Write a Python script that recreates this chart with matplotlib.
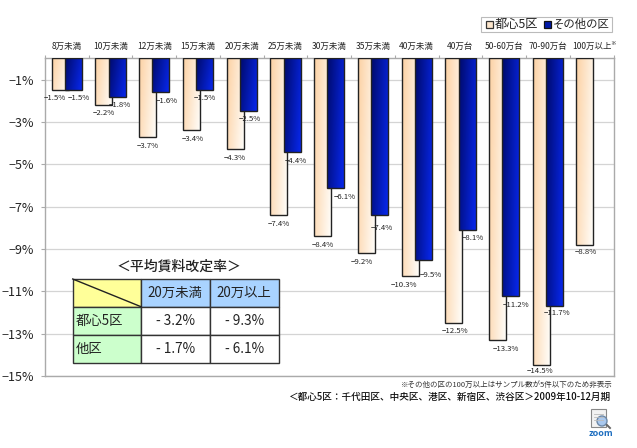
import matplotlib
matplotlib.use('Agg')
import matplotlib.pyplot as plt
from matplotlib.patches import Rectangle, Circle, Polygon
import numpy as np

plt.rcParams['font.family'] = ['Noto Sans CJK JP', 'DejaVu Sans']

categories = ['8万未満', '10万未満', '12万未満', '15万未満', '20万未満', '25万未満', '30万未満',
              '35万未満', '40万未満', '40万台', '50-60万台', '70-90万台', '100万以上']
center5 = [-1.5, -2.2, -3.7, -3.4, -4.3, -7.4, -8.4, -9.2, -10.3, -12.5, -13.3, -14.5, -8.8]
others = [-1.5, -1.8, -1.6, -1.5, -2.5, -4.4, -6.1, -7.4, -9.5, -8.1, -11.2, -11.7]
y_ticks = [-1, -3, -5, -7, -9, -11, -13, -15]

table_title = '＜平均賃料改定率＞'
table_cols = ['20万未満', '20万以上']
table_rows = ['都心5区', '他区']
table_vals = [['- 3.2%', '- 9.3%'], ['- 1.7%', '- 6.1%']]

# label nudges in pixels, from the bar centre / bar end
center_dx = [-5, 0, 0, 1, 0, 0, 0, -4, -6, 1, 8, -1, 1]
center_dy = [8, 8, 9, 9, 9, 9, 9, 9, 9, 8, 9, 6, 7]
other_dx = [5, 3, 6, 0, 1, 4, 9, 2, 8, 6, 5, 3]
other_dy = [8, 8, 9, 8, 8, 9, 9, 13, 15, 8, 9, 7]

W, H = 637, 448
fig = plt.figure(figsize=(W / 100, H / 100), dpi=100)
L, R, T, B = 45, 613.5, 58.4, 376
ax = fig.add_axes([L / W, 1 - B / H, (R - L) / W, (B - T) / H])
ax.set_xlim(0, 13)
ax.set_ylim(-15, 0)

# diagonal gradients, top-left to bottom-right
n = 40
gx, gy = np.meshgrid(np.linspace(0, 1, n), np.linspace(0, 1, n))
grad = (gx * 0.75 + gy * 0.25)


def gradient(c0, c1):
    c0, c1 = np.array(c0), np.array(c1)
    return c0 + (c1 - c0) * grad[..., None]


peach = gradient((0.99, 0.82, 0.64), (1, 1, 0.99))
blue = gradient((0.0, 0.04, 0.42), (0.03, 0.16, 0.95))

bar_w = 17 / 43.73
off1 = 6.7 / 43.73
off2 = 20 / 43.73


def draw_bar(x, v, img, z):
    im = ax.imshow(img, extent=[x, x + bar_w, v, 0], aspect='auto', zorder=z, interpolation='bilinear')
    r = Rectangle((x, v), bar_w, -v, fill=False, ec='#222222', lw=1.0, zorder=z + 0.1)
    ax.add_patch(r)
    im.set_clip_path(r)


for i, v in enumerate(center5):
    draw_bar(i + off1, v, peach, 3)
for i, v in enumerate(others):
    draw_bar(i + off2, v, blue, 4)
ax.set_xlim(0, 13)
ax.set_ylim(-15, 0)
ax.set_aspect('auto')

for i, v in enumerate(center5):
    ax.annotate(f'\u2212{abs(v)}%', (i + off1 + bar_w / 2, v), xytext=(center_dx[i] * 0.72, -center_dy[i] * 0.72),
                textcoords='offset points', ha='center', va='center', fontsize=5.6, color='#222222', zorder=6)
for i, v in enumerate(others):
    ax.annotate(f'\u2212{abs(v)}%', (i + off2 + bar_w / 2, v), xytext=(other_dx[i] * 0.72, -other_dy[i] * 0.72),
                textcoords='offset points', ha='center', va='center', fontsize=5.6, color='#222222', zorder=6)

ax.set_yticks(y_ticks)
ax.set_yticklabels([f'\u2212{abs(t)}%' for t in y_ticks], fontsize=9, color='#222222')
ax.grid(axis='y', color='#d4d4d4', lw=0.9, zorder=0)
ax.set_axisbelow(True)
ax.tick_params(axis='y', length=3, color='#aaaaaa', pad=5)
ax.xaxis.tick_top()
ax.set_xticks(range(14))
ax.set_xticklabels([])
ax.tick_params(axis='x', length=2, color='#aaaaaa', direction='out')
for s in ax.spines.values():
    s.set_color('#aaaaaa')
    s.set_linewidth(1.0)

for i, c in enumerate(categories):
    ax.annotate(c, (i + 0.5, 0), xytext=(0, 8.5), textcoords='offset points', ha='center', va='center',
                fontsize=6.1, color='#222222')
ax.annotate('※', (12.5, 0), xytext=(15.5, 10.5), textcoords='offset points', ha='center', va='center',
            fontsize=4, color='#222222')

# overlay in pixel coordinates for table, legend, notes
ov = fig.add_axes([0, 0, 1, 1], zorder=10)
ov.set_xlim(0, W)
ov.set_ylim(H, 0)
ov.axis('off')

xs = [72.7, 141, 209.7, 278.7]
ys = [279, 306.7, 334.7, 362.7]
line = '#333333'
ov.add_patch(Rectangle((xs[0], ys[0]), xs[1] - xs[0], ys[1] - ys[0], fc='#ffff99', ec=line, lw=1))
for j in range(2):
    ov.add_patch(Rectangle((xs[j + 1], ys[0]), xs[j + 2] - xs[j + 1], ys[1] - ys[0], fc='#a9d3ff', ec=line, lw=1))
    ov.text((xs[j + 1] + xs[j + 2]) / 2, (ys[0] + ys[1]) / 2, table_cols[j], ha='center', va='center',
            fontsize=9.6, color='#222222')
for r in range(2):
    ov.add_patch(Rectangle((xs[0], ys[r + 1]), xs[1] - xs[0], ys[r + 2] - ys[r + 1], fc='#ccffcc', ec=line, lw=1))
    ov.text(xs[0] + 3, (ys[r + 1] + ys[r + 2]) / 2, table_rows[r], ha='left', va='center', fontsize=9.6, color='#222222')
    for j in range(2):
        ov.add_patch(Rectangle((xs[j + 1], ys[r + 1]), xs[j + 2] - xs[j + 1], ys[r + 2] - ys[r + 1], fc='white', ec=line, lw=1))
        ov.text((xs[j + 1] + xs[j + 2]) / 2, (ys[r + 1] + ys[r + 2]) / 2, table_vals[r][j], ha='center', va='center',
                fontsize=9.8, color='#222222')
ov.plot([xs[0], xs[1]], [ys[0], ys[1]], color='#222222', lw=1)
ov.text(179, 267, table_title, ha='center', va='center', fontsize=10, color='#222222', fontweight='medium')

# legend box
ov.add_patch(Rectangle((480.7, 17), 131, 15, fc='white', ec='#bbbbbb', lw=0.8))
ov.add_patch(Rectangle((486, 21), 7, 7, fc='#fde6cc', ec='#333333', lw=0.9))
ov.text(494.5, 24.5, '都心5区', ha='left', va='center', fontsize=8.8, color='#222222')
ov.add_patch(Rectangle((544, 21), 7, 7, fc='#0018a8', ec='#111111', lw=0.9))
ov.text(552.5, 24.5, 'その他の区', ha='left', va='center', fontsize=8.2, color='#222222')

# notes
ov.text(613, 385, '※その他の区の100万以上はサンプル数が5件以下のため非表示', ha='right', va='center', fontsize=5.4, color='#333333')
ov.text(610, 397, '＜都心5区：千代田区、中央区、港区、新宿区、渋谷区＞2009年10-12月期', ha='right', va='center',
        fontsize=6.9, color='#111111', fontweight='medium')

# zoom icon
ov.add_patch(Polygon([(591, 409), (606, 409), (606, 427), (591, 427)], fc='#f2f2f2', ec='#888888', lw=0.8))
for yy in (414, 417, 420):
    ov.plot([594, 603], [yy, yy], color='#bbbbbb', lw=0.6)
ov.plot([607, 610], [425, 428], color='#666666', lw=1.4)
ov.add_patch(Circle((602, 421), 5, fc='#a9c8ee', ec='#6d89a8', lw=1))
ov.text(601, 434, 'zoom', ha='center', va='center', fontsize=6.6, color='#1f6fc0', fontweight='bold')

fig.savefig('out.png', dpi=100)
